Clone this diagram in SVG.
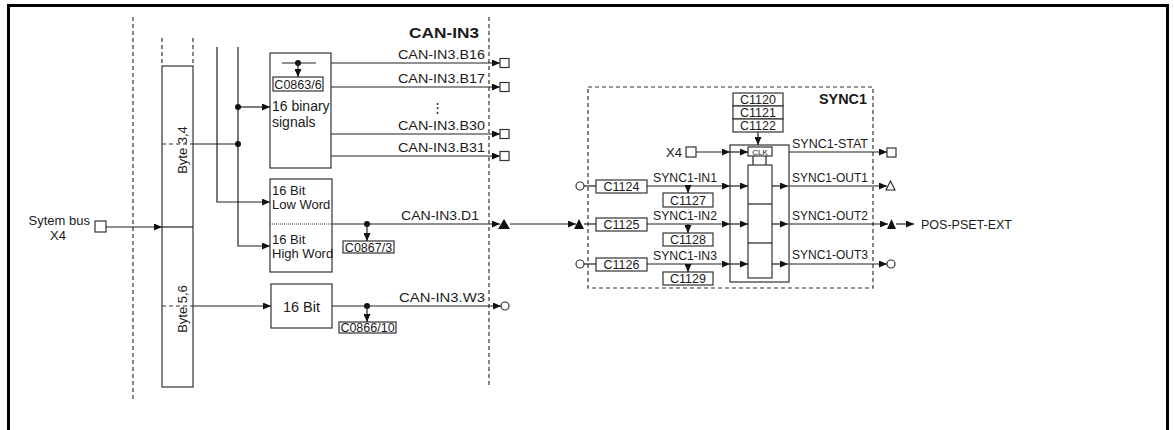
<svg xmlns="http://www.w3.org/2000/svg" width="1174" height="430" viewBox="0 0 1174 430">
<style>
text{font-family:"Liberation Sans",Arial,sans-serif;fill:#1a1a1a}
.l{stroke:#222;stroke-width:1.2;fill:none}
.b{stroke:#333;stroke-width:1.2;fill:#fff}
.d{stroke:#333;stroke-width:1.2;stroke-dasharray:4,3;fill:none}
.f{fill:#111}
.t13{font-size:13px}
.t12{font-size:12px}
.c{font-size:12.5px;text-anchor:middle}
.m{text-anchor:middle}
.e{text-anchor:end}
</style>
<defs>
<marker id="a" markerWidth="9" markerHeight="7" refX="8" refY="3.5" orient="auto" markerUnits="userSpaceOnUse">
<path d="M0,0 L8,3.5 L0,7 z" fill="#111"/>
</marker>
</defs>
<rect width="1174" height="430" fill="#fff"/>
<g id="frame"><path d="M8.5,432 V5.5 H1167.5 V432" fill="none" stroke="#000" stroke-width="3"/></g>
<g id="separators">
<line class="d" x1="133" y1="17" x2="133" y2="399"/>
<line class="d" x1="489" y1="17" x2="489" y2="387"/>
<text x="409" y="38" font-weight="bold" font-size="15" textLength="70" lengthAdjust="spacingAndGlyphs">CAN-IN3</text>
</g>
<g id="system-bus">
<text class="t13 e" x="90" y="225">Sytem bus</text>
<text class="t13 m" x="58" y="240">X4</text>
<rect class="b" x="95" y="221" width="11" height="11"/>
</g>
<g id="byte-box">
<rect class="b" x="162" y="66" width="31" height="321"/>
<line class="d" x1="162" y1="38" x2="162" y2="66"/>
<line class="d" x1="193" y1="38" x2="193" y2="66"/>
<line class="l" x1="162" y1="227" x2="193" y2="227"/>
<line class="d" x1="162" y1="144" x2="193" y2="144" stroke-dasharray="3,2"/>
<line class="d" x1="162" y1="306" x2="193" y2="306" stroke-dasharray="3,2"/>
<text class="t13 m" transform="translate(186.5,150) rotate(-90)">Byte 3,4</text>
<text class="t13 m" transform="translate(186.5,309) rotate(-90)">Byte 5,6</text>
</g>
<g id="binary-signals">
<rect class="b" x="270" y="53" width="61" height="115"/>
<line class="l" x1="282" y1="63" x2="316" y2="63"/>
<rect class="b" x="273" y="77" width="50" height="14"/>
<text class="c" x="298" y="88.5">C0863/6</text>
<text x="272" y="111" font-size="14">16 binary</text>
<text x="272" y="127" font-size="14">signals</text>
</g>
<g id="word-box">
<rect class="b" x="270" y="179" width="62" height="93"/>
<line x1="270" y1="224" x2="332" y2="224" stroke="#333" stroke-width="1" stroke-dasharray="1,1"/>
<text class="t13" x="272" y="195">16 Bit</text>
<text class="t13" x="272" y="209">Low Word</text>
<text class="t13" x="272" y="244">16 Bit</text>
<text class="t13" x="272" y="258">High Word</text>
<rect class="b" x="343" y="241" width="51" height="12"/>
<text class="c" x="368.5" y="251.5">C0867/3</text>
</g>
<g id="bit16-box">
<rect class="b" x="271" y="284" width="61" height="44"/>
<text class="m" x="301.5" y="312" font-size="14.5">16 Bit</text>
<rect class="b" x="339" y="322" width="57" height="11"/>
<text class="c" x="367.5" y="331.5" font-size="12">C0866/10</text>
</g>
<g id="can-outputs">
<text class="t13 e" x="485" y="59" textLength="87" lengthAdjust="spacingAndGlyphs">CAN-IN3.B16</text>
<text class="t13 e" x="485" y="83" textLength="87" lengthAdjust="spacingAndGlyphs">CAN-IN3.B17</text>
<text class="m" x="437" y="112" font-size="13" font-family="DejaVu Sans,sans-serif">⋮</text>
<text class="t13 e" x="485" y="130" textLength="87" lengthAdjust="spacingAndGlyphs">CAN-IN3.B30</text>
<text class="t13 e" x="485" y="152" textLength="87" lengthAdjust="spacingAndGlyphs">CAN-IN3.B31</text>
<text class="t13 e" x="479" y="220" textLength="78" lengthAdjust="spacingAndGlyphs">CAN-IN3.D1</text>
<text class="t13 e" x="485" y="302" textLength="86" lengthAdjust="spacingAndGlyphs">CAN-IN3.W3</text>
<rect class="b" x="500" y="58.5" width="9" height="9"/>
<rect class="b" x="500" y="82.5" width="9" height="9"/>
<rect class="b" x="500" y="129.5" width="9" height="9"/>
<rect class="b" x="500" y="151.5" width="9" height="9"/>
<polygon class="f" points="498,229 504,219 510,229"/>
<circle class="b" cx="505" cy="306" r="4"/>
</g>
<g id="sync1">
<rect x="588" y="87" width="285" height="201" fill="none" stroke="#333" stroke-width="1.2" stroke-dasharray="4,3"/>
<text x="819" y="104" font-weight="bold" font-size="14" textLength="48" lengthAdjust="spacingAndGlyphs">SYNC1</text>
<rect class="b" x="733" y="93" width="50" height="13"/>
<rect class="b" x="733" y="106" width="50" height="13"/>
<rect class="b" x="733" y="119" width="50" height="13"/>
<text class="c" x="758" y="104">C1120</text>
<text class="c" x="758" y="117">C1121</text>
<text class="c" x="758" y="130">C1122</text>
<rect class="b" x="730" y="145" width="59" height="137"/>
<rect class="b" x="748" y="147" width="24" height="9"/>
<text x="760" y="154.5" font-size="8" text-anchor="middle">CLK</text>
<line class="l" x1="753" y1="156" x2="753" y2="165"/>
<line class="l" x1="766" y1="156" x2="766" y2="165"/>
<rect class="b" x="748" y="165" width="24" height="113"/>
<line class="l" x1="748" y1="204" x2="772" y2="204"/>
<line class="l" x1="748" y1="243" x2="772" y2="243"/>
<text class="t13 e" x="682" y="157">X4</text>
<rect class="b" x="686" y="147" width="10" height="10"/>
<circle class="b" cx="580" cy="186" r="4"/>
<polygon class="f" points="574,229 579,219 584,229"/>
<circle class="b" cx="580" cy="264" r="4"/>
<rect class="b" x="596" y="180" width="51" height="13"/>
<rect class="b" x="596" y="218" width="51" height="13"/>
<rect class="b" x="596" y="258" width="51" height="13"/>
<text class="c" x="621.5" y="191">C1124</text>
<text class="c" x="621.5" y="229">C1125</text>
<text class="c" x="621.5" y="269">C1126</text>
<text class="t12" x="653" y="182" textLength="64" lengthAdjust="spacingAndGlyphs">SYNC1-IN1</text>
<text class="t12" x="653" y="220" textLength="64" lengthAdjust="spacingAndGlyphs">SYNC1-IN2</text>
<text class="t12" x="653" y="260" textLength="64" lengthAdjust="spacingAndGlyphs">SYNC1-IN3</text>
<rect class="b" x="663" y="193" width="50" height="14"/>
<rect class="b" x="663" y="233" width="50" height="13"/>
<rect class="b" x="663" y="272" width="50" height="13"/>
<text class="c" x="688" y="204.5">C1127</text>
<text class="c" x="688" y="244">C1128</text>
<text class="c" x="688" y="283">C1129</text>
<text class="t12" x="792" y="148" textLength="76" lengthAdjust="spacingAndGlyphs">SYNC1-STAT</text>
<text class="t12" x="792" y="182" textLength="76" lengthAdjust="spacingAndGlyphs">SYNC1-OUT1</text>
<text class="t12" x="792" y="220" textLength="76" lengthAdjust="spacingAndGlyphs">SYNC1-OUT2</text>
<text class="t12" x="792" y="259" textLength="76" lengthAdjust="spacingAndGlyphs">SYNC1-OUT3</text>
</g>
<g id="sync1-outputs">
<rect class="b" x="887" y="148" width="9" height="9"/>
<polygon points="886,190 890.5,181 895,190" fill="#fff" stroke="#222" stroke-width="1.1"/>
<polygon class="f" points="887,229 891.5,219 896,229"/>
<circle class="b" cx="891" cy="264" r="4"/>
<text x="921" y="229" font-size="12.5">POS-PSET-EXT</text>
</g>
<g id="connectors">
<path class="l" d="M106,227 H162" marker-end="url(#a)"/>
<path class="l" d="M193,144 H238"/>
<path class="l" d="M238,47 V246 H270" marker-end="url(#a)"/>
<path class="l" d="M217,47 V202 H270" marker-end="url(#a)"/>
<path class="l" d="M238,107 H270" marker-end="url(#a)"/>
<path class="l" d="M193,306 H271" marker-end="url(#a)"/>
<circle class="f" cx="238" cy="107" r="3"/>
<circle class="f" cx="238" cy="144" r="3"/>
<circle class="f" cx="298" cy="63" r="3"/>
<path class="l" d="M298,63 V77" marker-end="url(#a)"/>
<path class="l" d="M331,63 H500" marker-end="url(#a)"/>
<path class="l" d="M331,87 H500" marker-end="url(#a)"/>
<path class="l" d="M331,134 H500" marker-end="url(#a)"/>
<path class="l" d="M331,156 H500" marker-end="url(#a)"/>
<path class="l" d="M332,224 H500" marker-end="url(#a)"/>
<circle class="f" cx="367" cy="224" r="3"/>
<path class="l" d="M367,224 V241" marker-end="url(#a)"/>
<path class="l" d="M332,306 H501" marker-end="url(#a)"/>
<circle class="f" cx="367" cy="306" r="3"/>
<path class="l" d="M367,306 V322" marker-end="url(#a)"/>
<path class="l" d="M510,224 H576" marker-end="url(#a)"/>
<path class="l" d="M584,224 H596"/>
<path class="l" d="M584,186 H596"/>
<path class="l" d="M584,264 H596"/>
<path class="l" d="M696,152 H730" marker-end="url(#a)"/>
<path class="l" d="M730,152 H748" marker-end="url(#a)"/>
<path class="l" d="M758,132 V145" marker-end="url(#a)"/>
<path class="l" d="M647,186 H730" marker-end="url(#a)"/>
<path class="l" d="M730,186 H748" marker-end="url(#a)"/>
<path class="l" d="M647,224 H730" marker-end="url(#a)"/>
<path class="l" d="M730,224 H748" marker-end="url(#a)"/>
<path class="l" d="M647,264 H730" marker-end="url(#a)"/>
<path class="l" d="M730,264 H748" marker-end="url(#a)"/>
<path class="l" d="M688,186 V193" marker-end="url(#a)"/>
<path class="l" d="M688,224 V233" marker-end="url(#a)"/>
<path class="l" d="M688,264 V272" marker-end="url(#a)"/>
<path class="l" d="M772,186 H788" marker-end="url(#a)"/>
<path class="l" d="M772,224 H788" marker-end="url(#a)"/>
<path class="l" d="M772,264 H788" marker-end="url(#a)"/>
<path class="l" d="M789,152 H887" marker-end="url(#a)"/>
<path class="l" d="M789,186 H887" marker-end="url(#a)"/>
<path class="l" d="M789,224 H888" marker-end="url(#a)"/>
<path class="l" d="M896,224 H914" marker-end="url(#a)"/>
<path class="l" d="M789,264 H887" marker-end="url(#a)"/>
</g>
</svg>
